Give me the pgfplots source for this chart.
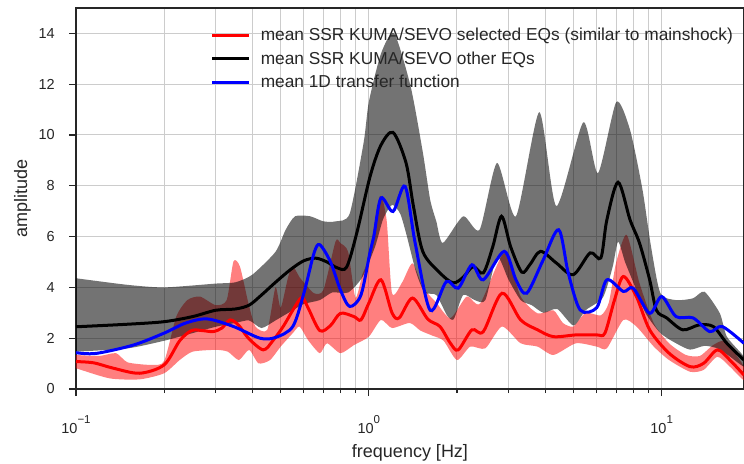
\documentclass[border=0pt]{standalone}
\usepackage{pgfplots}
\pgfplotsset{compat=1.18}
\usepackage{fontspec}
\setmainfont{Liberation Sans}
\definecolor{txt}{HTML}{262626}
\definecolor{gridc}{HTML}{CCCCCC}
\begin{document}
\begin{tikzpicture}
\useasboundingbox (-76pt,-74pt) rectangle (668pt,389pt);
\begin{axis}[
  scale only axis, width=668pt, height=381pt,
  xmode=log, xmin=0.1, xmax=19.11, ymin=0, ymax=15,
  xtick={0.1,1,10},
  minor xtick={0.2,0.3,0.4,0.5,0.6,0.7,0.8,0.9,2,3,4,5,6,7,8,9},
  xticklabels={{10\raisebox{10pt}{\fontsize{11.5}{12}\selectfont −1}},{10\raisebox{10pt}{\fontsize{11.5}{12}\selectfont 0}},{10\raisebox{10pt}{\fontsize{11.5}{12}\selectfont 1}}},
  ytick={0,2,...,14},
  yticklabel={\pgfmathprintnumber[assume math mode=true]{\tick}},
  xtick pos=bottom, ytick pos=left,
  tick align=outside,
  major tick length=7pt, minor tick length=4pt,
  every tick/.style={line width=1.2pt, color=black!85},
  axis line style={line width=1.2pt, color=black!85},
  xmajorgrids, xminorgrids, ymajorgrids,
  major grid style={line width=1pt, color=gridc},
  minor grid style={line width=1pt, color=gridc},
  ticklabel style={font=\fontsize{14.5}{16}\selectfont, text=txt},
  xticklabel style={anchor=north, inner sep=0pt, yshift=-19pt},
  yticklabel style={anchor=east, inner sep=0pt, xshift=-14pt},
  xlabel={frequency [Hz]}, ylabel={amplitude},
  label style={font=\fontsize{18}{20}\selectfont, text=txt, inner sep=0pt},
  xlabel style={at={(axis description cs:0.5,-0.1785)}, anchor=base},
  ylabel style={at={(axis description cs:-0.0928,0.5)}, anchor=north},
  legend style={draw=none, fill=none, at={(axis description cs:0.197,0.955)}, anchor=north west,
    font=\fontsize{17.3}{19}\selectfont, text=txt, row sep=7.5pt,
    nodes={inner sep=1pt}},
  legend cell align=left,
  legend image code/.code={\draw[#1, line width=3pt] (0pt,0pt) -- (37pt,0pt); \path (46pt,0pt);},
]
% red band
\addplot[fill=red, fill opacity=0.5, draw=none, forget plot, smooth, tension=0.4] coordinates {
(0.1,1.34) (0.12,1.3) (0.137,1.41) (0.15,1.05) (0.18,0.95) (0.2,1.1) (0.22,2.85) (0.24,3.5) (0.265,3.64) (0.3,3.3) (0.327,3.5) (0.345,5.02) (0.363,4.82) (0.388,3.38) (0.41,2.46) (0.45,2.33) (0.48,4.0) (0.5,3.2) (0.53,4.4) (0.55,4.83) (0.58,4.4) (0.61,4.1) (0.65,3.77) (0.7,3.9) (0.77,5.81) (0.8,5.74) (0.85,5.4) (0.9,3.6) (0.95,4.5) (1.0,5.2) (1.09,7.58) (1.15,6.66) (1.2,3.77) (1.3,4.2) (1.41,4.95) (1.53,4.0) (1.7,3.4) (1.9,2.79) (2.16,3.64) (2.4,3.37) (2.9,5.35) (3.3,3.64) (3.77,2.98) (4.27,3.1) (4.6,2.6) (4.99,2.46) (5.5,3.0) (6.2,2.9) (6.6,3.4) (7.0,5.0) (7.6,6.07) (8.4,4.17) (9.4,2.59) (10.6,1.8) (12.1,1.34) (13.5,1.3) (15,1.73) (16.5,1.87) (19.1,0.88)
(19.1,0.35) (17.1,0.88) (15.5,1.27) (13.9,0.75) (12.5,0.68) (10.6,1.14) (9.4,1.67) (8.2,2.46) (7.4,2.72) (6.5,1.6) (6.0,1.67) (5.1,1.8) (4.27,1.34) (3.77,1.67) (3.3,1.8) (2.85,2.46) (2.5,1.6) (2.22,1.67) (2.0,1.14) (1.8,1.9) (1.65,2.1) (1.5,2.3) (1.38,2.6) (1.2,2.4) (1.1,2.72) (1.0,2.06) (0.89,1.73) (0.8,1.41) (0.72,1.8) (0.68,1.41) (0.62,1.93) (0.58,2.46) (0.55,2.2) (0.5,1.67) (0.46,1.14) (0.42,1.01) (0.39,1.54) (0.36,1.14) (0.33,1.47) (0.3,1.54) (0.25,1.47) (0.226,1.14) (0.2,0.62) (0.165,0.38) (0.13,0.42) (0.1,0.82)
};
% grey band
\addplot[fill=black, fill opacity=0.55, draw=none, forget plot, smooth, tension=0.4] coordinates {
(0.1,4.36) (0.15,4.1) (0.2,4.0) (0.3,4.15) (0.35,4.2) (0.4,4.5) (0.48,5.4) (0.52,6.27) (0.56,6.8) (0.63,6.8) (0.7,6.6) (0.77,6.6) (0.86,6.9) (0.96,9.7) (1.0,11.3) (1.1,13.2) (1.22,14.0) (1.39,11.9) (1.53,9.3) (1.62,7.45) (1.7,6.6) (1.79,5.75) (2.1,6.8) (2.39,6.27) (2.74,8.9) (3.18,6.8) (3.82,10.9) (4.37,7.2) (5.4,10.5) (6.06,8.5) (7.0,11.3) (7.8,10.2) (8.6,7.85) (9.2,5.6) (9.9,3.77) (11.2,3.5) (12.8,3.57) (14,3.83) (15.8,2.98) (16.7,2.06) (19.1,1.27)
(19.1,0.88) (17,1.3) (15.5,1.6) (14,1.7) (12.5,1.55) (11.2,1.8) (9.9,2.2) (8.8,3.0) (8.0,4.2) (7.5,5.0) (7.1,5.8) (6.8,4.8) (6.3,3.6) (5.5,3.1) (5.0,2.5) (4.4,3.15) (3.95,3.0) (3.6,3.3) (3.3,3.5) (3.0,4.3) (2.74,5.2) (2.5,3.5) (2.3,3.5) (2.1,3.7) (1.95,2.75) (1.85,2.9) (1.7,3.7) (1.55,3.8) (1.45,4.6) (1.35,6.0) (1.28,6.9) (1.2,7.25) (1.12,6.7) (1.05,5.6) (0.95,4.4) (0.85,3.8) (0.75,3.8) (0.68,3.5) (0.6,3.35) (0.55,3.1) (0.48,2.7) (0.43,2.4) (0.39,2.7) (0.35,2.6) (0.3,2.45) (0.25,2.2) (0.2,1.9) (0.15,1.6) (0.1,1.47)
};
% red mean
\addplot[red, line width=3pt, smooth, tension=0.5] coordinates {
(0.1,1.08) (0.115,1.03) (0.134,0.82) (0.165,0.62) (0.2,0.95) (0.226,1.9) (0.248,2.3) (0.27,2.3) (0.294,2.26) (0.315,2.4) (0.336,2.72) (0.36,2.5) (0.388,2.0) (0.436,1.54) (0.47,1.9) (0.51,2.46) (0.55,3.1) (0.59,3.6) (0.62,3.2) (0.68,2.3) (0.74,2.5) (0.8,2.98) (0.89,2.85) (0.94,2.72) (1.0,3.38) (1.1,4.3) (1.2,3.0) (1.27,2.8) (1.41,3.58) (1.59,2.75) (1.75,2.46) (1.9,1.8) (2.02,1.54) (2.25,2.33) (2.46,2.26) (2.85,3.77) (3.3,2.72) (3.77,2.33) (4.27,2.06) (5.1,2.13) (6.0,2.13) (6.4,2.2) (6.9,3.5) (7.4,4.43) (8.2,3.64) (9.1,2.33) (10.6,1.41) (12.5,0.88) (13.9,1.01) (15.5,1.54) (17.1,1.14) (19.1,0.55)
};
\addlegendentry{mean SSR KUMA/SEVO selected EQs (similar to mainshock)}
% black mean
\addplot[black, line width=3pt, smooth, tension=0.5] coordinates {
(0.1,2.45) (0.15,2.55) (0.2,2.65) (0.25,2.85) (0.3,3.1) (0.35,3.15) (0.39,3.3) (0.43,3.7) (0.48,4.2) (0.54,4.7) (0.6,5.05) (0.66,5.15) (0.72,5.0) (0.78,4.77) (0.84,4.8) (0.91,6.15) (1.01,8.37) (1.1,9.6) (1.21,10.1) (1.34,8.9) (1.42,7.2) (1.53,5.4) (1.75,4.57) (1.94,4.18) (2.1,4.4) (2.27,4.82) (2.46,4.57) (2.65,5.6) (2.84,6.8) (3.05,5.6) (3.33,4.6) (3.55,4.9) (3.86,5.42) (4.37,4.96) (4.99,4.5) (5.7,5.36) (6.2,5.16) (6.5,6.66) (7.1,8.14) (7.8,6.66) (8.4,5.75) (9.1,4.3) (9.6,3.1) (10.4,2.8) (11.8,2.33) (13.4,2.52) (15,2.46) (16.7,1.8) (19.1,1.14)
};
\addlegendentry{mean SSR KUMA/SEVO other EQs}
% blue
\addplot[blue, line width=3pt, smooth, tension=0.5] coordinates {
(0.1,1.43) (0.117,1.4) (0.157,1.73) (0.2,2.2) (0.236,2.59) (0.28,2.76) (0.345,2.46) (0.425,2.0) (0.48,2.03) (0.55,2.46) (0.6,3.77) (0.65,5.35) (0.68,5.68) (0.74,5.0) (0.8,3.9) (0.86,3.25) (0.94,3.7) (1.01,5.4) (1.04,6.0) (1.1,7.52) (1.21,6.99) (1.33,7.98) (1.44,5.74) (1.62,3.1) (1.84,4.23) (2.02,3.97) (2.25,4.89) (2.46,4.3) (2.9,5.42) (3.18,4.3) (3.46,3.77) (3.94,5.08) (4.45,6.27) (4.8,4.56) (5.27,3.11) (6.0,3.2) (6.5,4.3) (7.4,3.84) (8.0,3.97) (9.1,2.98) (10.0,3.64) (11.2,2.85) (12.8,2.8) (14.6,2.26) (16.1,2.46) (19.1,1.8)
};
\addlegendentry{mean 1D transfer function}
\end{axis}
\end{tikzpicture}
\end{document}
